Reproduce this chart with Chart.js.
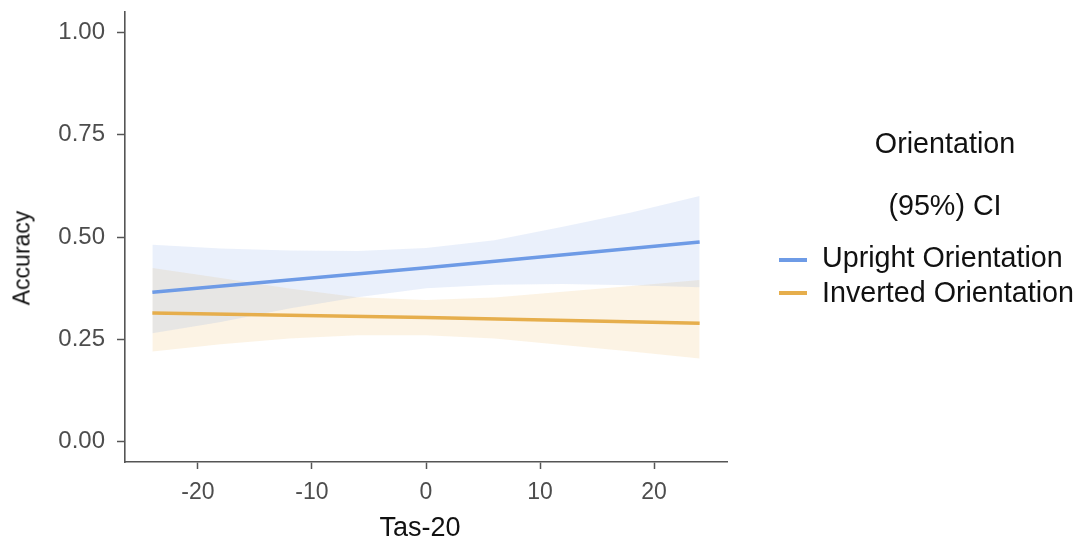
<!DOCTYPE html>
<html>
<head>
<meta charset="utf-8">
<script src="https://cdn.jsdelivr.net/npm/chart.js@4.4.0/dist/chart.umd.min.js"></script>
<style>
  html, body { margin: 0; padding: 0; background: #ffffff; }
  #wrap { position: relative; width: 1077px; height: 543px; overflow: hidden; }
  #c { position: absolute; left: 0; top: 0; }
  .txt { position: absolute; white-space: nowrap; line-height: 1; color: #111; font-family: "Liberation Sans", Arial, sans-serif; }
  .legline { position: absolute; width: 28px; height: 4px; }
</style>
</head>
<body>
<div id="wrap">
  <canvas id="c" width="1077" height="543"></canvas>
  <div class="txt" style="left:22px; top:258px; font-size:23px; transform:translate(-50%,-50%) rotate(-90deg);">Accuracy</div>
  <div class="txt" style="left:420px; top:527px; font-size:27px; transform:translate(-50%,-50%);">Tas-20</div>
  <div class="txt" style="left:945px; top:143px; font-size:28.7px; transform:translate(-50%,-50%);">Orientation</div>
  <div class="txt" style="left:945px; top:205px; font-size:28.7px; transform:translate(-50%,-50%);">(95%) CI</div>
  <div class="legline" style="left:779px; top:258px; background:#6e9be6;"></div>
  <div class="txt" style="left:822px; top:257px; font-size:28.7px; transform:translate(0,-50%);">Upright Orientation</div>
  <div class="legline" style="left:779px; top:291px; background:#e6ae4c;"></div>
  <div class="txt" style="left:822px; top:292px; font-size:28.7px; transform:translate(0,-50%);">Inverted Orientation</div>
</div>
<script>
// ---- data ----
const xBand = [-24, -18, -12, -6, 0, 6, 12, 18, 24];
const uprightUpper  = [0.481, 0.472, 0.467, 0.466, 0.473, 0.492, 0.525, 0.560, 0.600];
const uprightLower  = [0.265, 0.292, 0.325, 0.353, 0.375, 0.383, 0.385, 0.382, 0.377];
const invertedUpper = [0.424, 0.400, 0.374, 0.353, 0.346, 0.352, 0.366, 0.380, 0.395];
const invertedLower = [0.220, 0.238, 0.252, 0.260, 0.260, 0.252, 0.236, 0.220, 0.203];
const xFit = [-24, 0, 24];
const uprightFit  = [0.365, 0.425, 0.488];
const invertedFit = [0.314, 0.303, 0.289];
const xTicks = [-20, -10, 0, 10, 20];
const yTicks = [0, 0.25, 0.5, 0.75, 1];
const seriesNames = ["Upright Orientation", "Inverted Orientation"];

const pts = (xs, ys) => xs.map((x, i) => ({ x: x, y: ys[i] }));

const BLUE = '#6e9be6';
const ORANGE = '#e6ae4c';

const lineDs = (label, data, color) => ({
  label: label, data: data, borderColor: color, borderWidth: 3.5,
  pointRadius: 0, fill: false, tension: 0, borderCapStyle: 'butt'
});
const bandDs = (label, data, fill, bg) => ({
  label: label, data: data, borderColor: 'rgba(0,0,0,0)', borderWidth: 0.01,
  pointRadius: 0, fill: fill, backgroundColor: bg, tension: 0
});

new Chart(document.getElementById('c'), {
  type: 'line',
  data: {
    datasets: [
      lineDs(seriesNames[0], pts(xFit, uprightFit), BLUE),
      lineDs(seriesNames[1], pts(xFit, invertedFit), ORANGE),
      bandDs('Upright upper', pts(xBand, uprightUpper), 3, 'rgba(111,155,230,0.15)'),
      bandDs('Upright lower', pts(xBand, uprightLower), false, 'rgba(0,0,0,0)'),
      bandDs('Inverted upper', pts(xBand, invertedUpper), 5, 'rgba(232,176,77,0.15)'),
      bandDs('Inverted lower', pts(xBand, invertedLower), false, 'rgba(0,0,0,0)')
    ]
  },
  options: {
    responsive: false,
    animation: false,
    events: [],
    layout: { padding: { top: 12, right: 350, left: 0, bottom: 0 } },
    plugins: { legend: { display: false }, tooltip: { enabled: false } },
    scales: {
      x: {
        type: 'linear', min: -26.4, max: 26.4,
        afterBuildTicks: s => { s.ticks = xTicks.map(v => ({ value: v })); },
        afterFit: s => { s.height = 81; s.paddingLeft = 0; s.paddingRight = 0; },
        grid: { display: true, drawOnChartArea: false, drawTicks: true, tickLength: 7, tickWidth: 1.5, tickColor: '#555' },
        border: { display: true, color: '#555', width: 1.6 },
        ticks: { color: '#4d4d4d', padding: 10, font: { family: 'Liberation Sans', size: 23 }, callback: v => String(v), maxRotation: 0 },
        title: { display: false }
      },
      y: {
        type: 'linear', min: -0.05, max: 1.05,
        afterBuildTicks: s => { s.ticks = yTicks.map(v => ({ value: v })); },
        afterFit: s => { s.width = 125; s.paddingTop = 0; s.paddingBottom = 0; },
        grid: { display: true, drawOnChartArea: false, drawTicks: true, tickLength: 8, tickWidth: 1.5, tickColor: '#555' },
        border: { display: true, color: '#555', width: 1.6 },
        ticks: { color: '#4d4d4d', padding: 12, font: { family: 'Liberation Sans', size: 24, lineHeight: 1 }, callback: v => Number(v).toFixed(2) },
        title: { display: false }
      }
    }
  }
});
</script>
</body>
</html>
